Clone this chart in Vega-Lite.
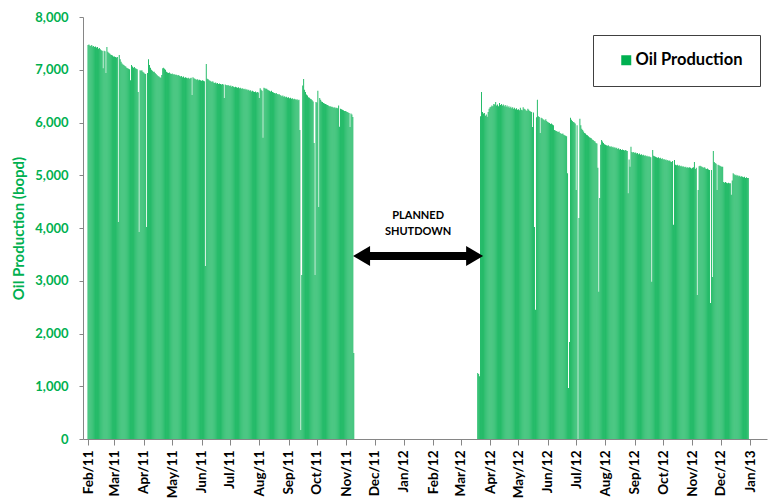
{
"$schema":"https://vega.github.io/schema/vega-lite/v6.json",
"width":684,"height":422,
"autosize":{"type":"none"},
"padding":{"left":83,"top":17,"right":1,"bottom":61},
"background":"white",
"config":{"view":{"stroke":null},"font":"Lato"},
"datasets":{
"oil":[
{"d":"2011-02-01","v":7470},{"d":"2011-02-02","v":7480},{"d":"2011-02-03","v":7460},{"d":"2011-02-04","v":7450},{"d":"2011-02-05","v":7470},{"d":"2011-02-06","v":7440},{"d":"2011-02-07","v":7450},{"d":"2011-02-08","v":7430},{"d":"2011-02-09","v":7440},{"d":"2011-02-10","v":7420},{"d":"2011-02-11","v":7430},{"d":"2011-02-12","v":7400},{"d":"2011-02-13","v":7410},{"d":"2011-02-14","v":7390},{"d":"2011-02-15","v":7370},{"d":"2011-02-16","v":7360},{"d":"2011-02-17","v":7030},{"d":"2011-02-18","v":7360},{"d":"2011-02-19","v":7350},{"d":"2011-02-20","v":6940},{"d":"2011-02-21","v":7430},{"d":"2011-02-22","v":7340},{"d":"2011-02-23","v":7320},{"d":"2011-02-24","v":7310},{"d":"2011-02-25","v":7290},{"d":"2011-02-26","v":7280},{"d":"2011-02-27","v":7270},{"d":"2011-02-28","v":7250},
{"d":"2011-03-01","v":7250},{"d":"2011-03-02","v":7240},{"d":"2011-03-03","v":7230},{"d":"2011-03-04","v":7240},{"d":"2011-03-05","v":4115},{"d":"2011-03-06","v":7280},{"d":"2011-03-07","v":7200},{"d":"2011-03-08","v":7150},{"d":"2011-03-09","v":7120},{"d":"2011-03-10","v":7100},{"d":"2011-03-11","v":7090},{"d":"2011-03-12","v":7070},{"d":"2011-03-13","v":7060},{"d":"2011-03-14","v":7040},{"d":"2011-03-15","v":7030},{"d":"2011-03-16","v":7020},{"d":"2011-03-17","v":7010},{"d":"2011-03-18","v":6800},{"d":"2011-03-19","v":7090},{"d":"2011-03-20","v":7060},{"d":"2011-03-21","v":7040},{"d":"2011-03-22","v":7050},{"d":"2011-03-23","v":7030},{"d":"2011-03-24","v":7020},{"d":"2011-03-25","v":7010},{"d":"2011-03-26","v":6580},{"d":"2011-03-27","v":3925},{"d":"2011-03-28","v":6990},{"d":"2011-03-29","v":6980},{"d":"2011-03-30","v":6990},{"d":"2011-03-31","v":6960},
{"d":"2011-04-01","v":6950},{"d":"2011-04-02","v":6930},{"d":"2011-04-03","v":6920},{"d":"2011-04-04","v":4020},{"d":"2011-04-05","v":6940},{"d":"2011-04-06","v":7200},{"d":"2011-04-07","v":7090},{"d":"2011-04-08","v":7040},{"d":"2011-04-09","v":7000},{"d":"2011-04-10","v":6980},{"d":"2011-04-11","v":6960},{"d":"2011-04-12","v":6960},{"d":"2011-04-13","v":6940},{"d":"2011-04-14","v":6920},{"d":"2011-04-15","v":6900},{"d":"2011-04-16","v":6880},{"d":"2011-04-17","v":6870},{"d":"2011-04-18","v":6860},{"d":"2011-04-19","v":6850},{"d":"2011-04-20","v":6900},{"d":"2011-04-21","v":7030},{"d":"2011-04-22","v":7040},{"d":"2011-04-23","v":7020},{"d":"2011-04-24","v":7000},{"d":"2011-04-25","v":6960},{"d":"2011-04-26","v":6950},{"d":"2011-04-27","v":6940},{"d":"2011-04-28","v":6950},{"d":"2011-04-29","v":6930},{"d":"2011-04-30","v":6920},
{"d":"2011-05-01","v":6930},{"d":"2011-05-02","v":6910},{"d":"2011-05-03","v":6920},{"d":"2011-05-04","v":6900},{"d":"2011-05-05","v":6910},{"d":"2011-05-06","v":6900},{"d":"2011-05-07","v":6890},{"d":"2011-05-08","v":6900},{"d":"2011-05-09","v":6880},{"d":"2011-05-10","v":6870},{"d":"2011-05-11","v":6880},{"d":"2011-05-12","v":6860},{"d":"2011-05-13","v":6870},{"d":"2011-05-14","v":6850},{"d":"2011-05-15","v":6860},{"d":"2011-05-16","v":6850},{"d":"2011-05-17","v":6840},{"d":"2011-05-18","v":6850},{"d":"2011-05-19","v":6830},{"d":"2011-05-20","v":6840},{"d":"2011-05-21","v":6850},{"d":"2011-05-22","v":6520},{"d":"2011-05-23","v":6860},{"d":"2011-05-24","v":6840},{"d":"2011-05-25","v":6830},{"d":"2011-05-26","v":6820},{"d":"2011-05-27","v":6810},{"d":"2011-05-28","v":6820},{"d":"2011-05-29","v":6800},{"d":"2011-05-30","v":6810},{"d":"2011-05-31","v":6800},
{"d":"2011-06-01","v":6790},{"d":"2011-06-02","v":6800},{"d":"2011-06-03","v":6790},{"d":"2011-06-04","v":6780},{"d":"2011-06-05","v":3280},{"d":"2011-06-06","v":7110},{"d":"2011-06-07","v":6830},{"d":"2011-06-08","v":6820},{"d":"2011-06-09","v":6800},{"d":"2011-06-10","v":6790},{"d":"2011-06-11","v":6780},{"d":"2011-06-12","v":6770},{"d":"2011-06-13","v":6780},{"d":"2011-06-14","v":6760},{"d":"2011-06-15","v":6750},{"d":"2011-06-16","v":6760},{"d":"2011-06-17","v":6740},{"d":"2011-06-18","v":6750},{"d":"2011-06-19","v":6730},{"d":"2011-06-20","v":6740},{"d":"2011-06-21","v":6730},{"d":"2011-06-22","v":6720},{"d":"2011-06-23","v":6730},{"d":"2011-06-24","v":6720},{"d":"2011-06-25","v":6465},{"d":"2011-06-26","v":6720},{"d":"2011-06-27","v":6710},{"d":"2011-06-28","v":6700},{"d":"2011-06-29","v":6710},{"d":"2011-06-30","v":6700},
{"d":"2011-07-01","v":6690},{"d":"2011-07-02","v":6700},{"d":"2011-07-03","v":6680},{"d":"2011-07-04","v":6690},{"d":"2011-07-05","v":6680},{"d":"2011-07-06","v":6670},{"d":"2011-07-07","v":6680},{"d":"2011-07-08","v":6670},{"d":"2011-07-09","v":6660},{"d":"2011-07-10","v":6670},{"d":"2011-07-11","v":6650},{"d":"2011-07-12","v":6660},{"d":"2011-07-13","v":6640},{"d":"2011-07-14","v":6650},{"d":"2011-07-15","v":6640},{"d":"2011-07-16","v":6630},{"d":"2011-07-17","v":6640},{"d":"2011-07-18","v":6620},{"d":"2011-07-19","v":6630},{"d":"2011-07-20","v":6610},{"d":"2011-07-21","v":6620},{"d":"2011-07-22","v":6600},{"d":"2011-07-23","v":6610},{"d":"2011-07-24","v":6590},{"d":"2011-07-25","v":6600},{"d":"2011-07-26","v":6590},{"d":"2011-07-27","v":6580},{"d":"2011-07-28","v":6590},{"d":"2011-07-29","v":6570},{"d":"2011-07-30","v":6580},{"d":"2011-07-31","v":6570},
{"d":"2011-08-01","v":6465},{"d":"2011-08-02","v":6650},{"d":"2011-08-03","v":6620},{"d":"2011-08-04","v":6600},{"d":"2011-08-05","v":5710},{"d":"2011-08-06","v":6660},{"d":"2011-08-07","v":6650},{"d":"2011-08-08","v":6640},{"d":"2011-08-09","v":6640},{"d":"2011-08-10","v":6620},{"d":"2011-08-11","v":6610},{"d":"2011-08-12","v":6600},{"d":"2011-08-13","v":6590},{"d":"2011-08-14","v":6600},{"d":"2011-08-15","v":6580},{"d":"2011-08-16","v":6570},{"d":"2011-08-17","v":6560},{"d":"2011-08-18","v":6550},{"d":"2011-08-19","v":6560},{"d":"2011-08-20","v":6540},{"d":"2011-08-21","v":6530},{"d":"2011-08-22","v":6540},{"d":"2011-08-23","v":6520},{"d":"2011-08-24","v":6510},{"d":"2011-08-25","v":6500},{"d":"2011-08-26","v":6510},{"d":"2011-08-27","v":6490},{"d":"2011-08-28","v":6500},{"d":"2011-08-29","v":6480},{"d":"2011-08-30","v":6490},{"d":"2011-08-31","v":6470},
{"d":"2011-09-01","v":6480},{"d":"2011-09-02","v":6460},{"d":"2011-09-03","v":6470},{"d":"2011-09-04","v":6450},{"d":"2011-09-05","v":6460},{"d":"2011-09-06","v":6440},{"d":"2011-09-07","v":6450},{"d":"2011-09-08","v":6440},{"d":"2011-09-09","v":6430},{"d":"2011-09-10","v":6440},{"d":"2011-09-11","v":6420},{"d":"2011-09-12","v":6430},{"d":"2011-09-13","v":5860},{"d":"2011-09-14","v":170},{"d":"2011-09-15","v":3110},{"d":"2011-09-16","v":6700},{"d":"2011-09-17","v":6825},{"d":"2011-09-18","v":6620},{"d":"2011-09-19","v":6580},{"d":"2011-09-20","v":6530},{"d":"2011-09-21","v":6510},{"d":"2011-09-22","v":6480},{"d":"2011-09-23","v":6470},{"d":"2011-09-24","v":6450},{"d":"2011-09-25","v":6440},{"d":"2011-09-26","v":6420},{"d":"2011-09-27","v":6400},{"d":"2011-09-28","v":5610},{"d":"2011-09-29","v":3110},{"d":"2011-09-30","v":6390},
{"d":"2011-10-01","v":6380},{"d":"2011-10-02","v":6600},{"d":"2011-10-03","v":4400},{"d":"2011-10-04","v":6465},{"d":"2011-10-05","v":6430},{"d":"2011-10-06","v":6400},{"d":"2011-10-07","v":6390},{"d":"2011-10-08","v":6370},{"d":"2011-10-09","v":6360},{"d":"2011-10-10","v":6350},{"d":"2011-10-11","v":6340},{"d":"2011-10-12","v":6330},{"d":"2011-10-13","v":6320},{"d":"2011-10-14","v":6310},{"d":"2011-10-15","v":6310},{"d":"2011-10-16","v":6300},{"d":"2011-10-17","v":6300},{"d":"2011-10-18","v":6290},{"d":"2011-10-19","v":6280},{"d":"2011-10-20","v":6290},{"d":"2011-10-21","v":6270},{"d":"2011-10-22","v":6280},{"d":"2011-10-23","v":6270},{"d":"2011-10-24","v":6320},{"d":"2011-10-25","v":5920},{"d":"2011-10-26","v":6260},{"d":"2011-10-27","v":6250},{"d":"2011-10-28","v":6240},{"d":"2011-10-29","v":6230},{"d":"2011-10-30","v":6220},{"d":"2011-10-31","v":6220},
{"d":"2011-11-01","v":6210},{"d":"2011-11-02","v":6200},{"d":"2011-11-03","v":6190},{"d":"2011-11-04","v":6180},{"d":"2011-11-05","v":5915},{"d":"2011-11-06","v":6170},{"d":"2011-11-07","v":6150},{"d":"2011-11-08","v":6105},{"d":"2011-11-09","v":1630},
{"d":"2012-03-19","v":1250},{"d":"2012-03-20","v":1230},{"d":"2012-03-21","v":1190},{"d":"2012-03-22","v":6120},{"d":"2012-03-23","v":6580},{"d":"2012-03-24","v":6200},{"d":"2012-03-25","v":6170},{"d":"2012-03-26","v":6180},{"d":"2012-03-27","v":6130},{"d":"2012-03-28","v":6150},{"d":"2012-03-29","v":6110},{"d":"2012-03-30","v":6200},{"d":"2012-03-31","v":6260},
{"d":"2012-04-01","v":6290},{"d":"2012-04-02","v":6300},{"d":"2012-04-03","v":6320},{"d":"2012-04-04","v":6310},{"d":"2012-04-05","v":6350},{"d":"2012-04-06","v":6340},{"d":"2012-04-07","v":6390},{"d":"2012-04-08","v":6320},{"d":"2012-04-09","v":6340},{"d":"2012-04-10","v":6310},{"d":"2012-04-11","v":6370},{"d":"2012-04-12","v":6330},{"d":"2012-04-13","v":6350},{"d":"2012-04-14","v":6320},{"d":"2012-04-15","v":6340},{"d":"2012-04-16","v":6310},{"d":"2012-04-17","v":6330},{"d":"2012-04-18","v":6300},{"d":"2012-04-19","v":6320},{"d":"2012-04-20","v":6290},{"d":"2012-04-21","v":6310},{"d":"2012-04-22","v":6280},{"d":"2012-04-23","v":6300},{"d":"2012-04-24","v":6270},{"d":"2012-04-25","v":6290},{"d":"2012-04-26","v":6260},{"d":"2012-04-27","v":6280},{"d":"2012-04-28","v":6250},{"d":"2012-04-29","v":6270},{"d":"2012-04-30","v":6240},
{"d":"2012-05-01","v":6250},{"d":"2012-05-02","v":6230},{"d":"2012-05-03","v":6280},{"d":"2012-05-04","v":6240},{"d":"2012-05-05","v":6230},{"d":"2012-05-06","v":6290},{"d":"2012-05-07","v":6260},{"d":"2012-05-08","v":6250},{"d":"2012-05-09","v":6230},{"d":"2012-05-10","v":6220},{"d":"2012-05-11","v":6260},{"d":"2012-05-12","v":6240},{"d":"2012-05-13","v":6220},{"d":"2012-05-14","v":6210},{"d":"2012-05-15","v":6200},{"d":"2012-05-16","v":5915},{"d":"2012-05-17","v":6190},{"d":"2012-05-18","v":4020},{"d":"2012-05-19","v":2450},{"d":"2012-05-20","v":6100},{"d":"2012-05-21","v":6430},{"d":"2012-05-22","v":6120},{"d":"2012-05-23","v":6105},{"d":"2012-05-24","v":5800},{"d":"2012-05-25","v":6090},{"d":"2012-05-26","v":6080},{"d":"2012-05-27","v":6060},{"d":"2012-05-28","v":6050},{"d":"2012-05-29","v":6040},{"d":"2012-05-30","v":6060},{"d":"2012-05-31","v":6030},
{"d":"2012-06-01","v":6010},{"d":"2012-06-02","v":6000},{"d":"2012-06-03","v":5990},{"d":"2012-06-04","v":5970},{"d":"2012-06-05","v":5980},{"d":"2012-06-06","v":5960},{"d":"2012-06-07","v":5950},{"d":"2012-06-08","v":5860},{"d":"2012-06-09","v":5850},{"d":"2012-06-10","v":5840},{"d":"2012-06-11","v":5830},{"d":"2012-06-12","v":5820},{"d":"2012-06-13","v":5830},{"d":"2012-06-14","v":5800},{"d":"2012-06-15","v":5790},{"d":"2012-06-16","v":5780},{"d":"2012-06-17","v":5790},{"d":"2012-06-18","v":5770},{"d":"2012-06-19","v":5760},{"d":"2012-06-20","v":5750},{"d":"2012-06-21","v":5740},{"d":"2012-06-22","v":5040},{"d":"2012-06-23","v":965},{"d":"2012-06-24","v":1840},{"d":"2012-06-25","v":6090},{"d":"2012-06-26","v":6050},{"d":"2012-06-27","v":6030},{"d":"2012-06-28","v":6010},{"d":"2012-06-29","v":6000},{"d":"2012-06-30","v":5980},
{"d":"2012-07-01","v":4720},{"d":"2012-07-02","v":5950},{"d":"2012-07-04","v":4190},{"d":"2012-07-05","v":6070},{"d":"2012-07-06","v":5950},{"d":"2012-07-07","v":5880},{"d":"2012-07-08","v":5860},{"d":"2012-07-09","v":5830},{"d":"2012-07-10","v":5800},{"d":"2012-07-11","v":5790},{"d":"2012-07-12","v":5770},{"d":"2012-07-13","v":5760},{"d":"2012-07-14","v":5740},{"d":"2012-07-15","v":5720},{"d":"2012-07-16","v":5710},{"d":"2012-07-17","v":5700},{"d":"2012-07-18","v":5680},{"d":"2012-07-19","v":5670},{"d":"2012-07-20","v":5650},{"d":"2012-07-21","v":5640},{"d":"2012-07-22","v":5610},{"d":"2012-07-23","v":5600},{"d":"2012-07-24","v":5140},{"d":"2012-07-25","v":2790},{"d":"2012-07-26","v":4570},{"d":"2012-07-27","v":5580},{"d":"2012-07-28","v":5670},{"d":"2012-07-29","v":5640},{"d":"2012-07-30","v":5610},{"d":"2012-07-31","v":5590},
{"d":"2012-08-01","v":5580},{"d":"2012-08-02","v":5570},{"d":"2012-08-03","v":5560},{"d":"2012-08-04","v":5570},{"d":"2012-08-05","v":5550},{"d":"2012-08-06","v":5540},{"d":"2012-08-07","v":5550},{"d":"2012-08-08","v":5530},{"d":"2012-08-09","v":5540},{"d":"2012-08-10","v":5520},{"d":"2012-08-11","v":5530},{"d":"2012-08-12","v":5510},{"d":"2012-08-13","v":5520},{"d":"2012-08-14","v":5500},{"d":"2012-08-15","v":5510},{"d":"2012-08-16","v":5490},{"d":"2012-08-17","v":5500},{"d":"2012-08-18","v":5480},{"d":"2012-08-19","v":5490},{"d":"2012-08-20","v":5480},{"d":"2012-08-21","v":5470},{"d":"2012-08-22","v":5480},{"d":"2012-08-23","v":5470},{"d":"2012-08-24","v":5460},{"d":"2012-08-25","v":4660},{"d":"2012-08-26","v":5300},{"d":"2012-08-27","v":5160},{"d":"2012-08-28","v":5540},{"d":"2012-08-29","v":5440},{"d":"2012-08-30","v":5430},{"d":"2012-08-31","v":5440},
{"d":"2012-09-01","v":5420},{"d":"2012-09-02","v":5430},{"d":"2012-09-03","v":5410},{"d":"2012-09-04","v":5420},{"d":"2012-09-05","v":5400},{"d":"2012-09-06","v":5410},{"d":"2012-09-07","v":5390},{"d":"2012-09-08","v":5400},{"d":"2012-09-09","v":5380},{"d":"2012-09-10","v":5390},{"d":"2012-09-11","v":5370},{"d":"2012-09-12","v":5380},{"d":"2012-09-13","v":5360},{"d":"2012-09-14","v":5370},{"d":"2012-09-15","v":5350},{"d":"2012-09-16","v":5360},{"d":"2012-09-17","v":5350},{"d":"2012-09-18","v":5340},{"d":"2012-09-19","v":2980},{"d":"2012-09-20","v":5480},{"d":"2012-09-21","v":5370},{"d":"2012-09-22","v":5360},{"d":"2012-09-23","v":5350},{"d":"2012-09-24","v":5340},{"d":"2012-09-25","v":5330},{"d":"2012-09-26","v":5340},{"d":"2012-09-27","v":5320},{"d":"2012-09-28","v":5330},{"d":"2012-09-29","v":5310},{"d":"2012-09-30","v":5320},
{"d":"2012-10-01","v":5300},{"d":"2012-10-02","v":5310},{"d":"2012-10-03","v":5290},{"d":"2012-10-04","v":5300},{"d":"2012-10-05","v":5280},{"d":"2012-10-06","v":5290},{"d":"2012-10-07","v":5270},{"d":"2012-10-08","v":5280},{"d":"2012-10-09","v":5260},{"d":"2012-10-10","v":5250},{"d":"2012-10-11","v":5270},{"d":"2012-10-12","v":4060},{"d":"2012-10-13","v":5290},{"d":"2012-10-14","v":5200},{"d":"2012-10-15","v":5190},{"d":"2012-10-16","v":5200},{"d":"2012-10-17","v":5180},{"d":"2012-10-18","v":5190},{"d":"2012-10-19","v":5170},{"d":"2012-10-20","v":5180},{"d":"2012-10-21","v":5160},{"d":"2012-10-22","v":5170},{"d":"2012-10-23","v":5160},{"d":"2012-10-24","v":5150},{"d":"2012-10-25","v":5160},{"d":"2012-10-26","v":5140},{"d":"2012-10-27","v":5150},{"d":"2012-10-28","v":5140},{"d":"2012-10-29","v":5150},{"d":"2012-10-30","v":5140},{"d":"2012-10-31","v":5130},
{"d":"2012-11-01","v":5140},{"d":"2012-11-02","v":5150},{"d":"2012-11-03","v":5250},{"d":"2012-11-04","v":5120},{"d":"2012-11-05","v":5140},{"d":"2012-11-06","v":2730},{"d":"2012-11-07","v":4720},{"d":"2012-11-08","v":5170},{"d":"2012-11-09","v":5180},{"d":"2012-11-10","v":5170},{"d":"2012-11-11","v":5160},{"d":"2012-11-12","v":5150},{"d":"2012-11-13","v":5140},{"d":"2012-11-14","v":5150},{"d":"2012-11-15","v":5130},{"d":"2012-11-16","v":5120},{"d":"2012-11-17","v":5130},{"d":"2012-11-18","v":5110},{"d":"2012-11-19","v":5100},{"d":"2012-11-20","v":2580},{"d":"2012-11-21","v":5100},{"d":"2012-11-22","v":3070},{"d":"2012-11-23","v":5460},{"d":"2012-11-24","v":5250},{"d":"2012-11-25","v":5230},{"d":"2012-11-26","v":5220},{"d":"2012-11-27","v":4720},{"d":"2012-11-28","v":5200},{"d":"2012-11-29","v":5190},{"d":"2012-11-30","v":5180},
{"d":"2012-12-01","v":5170},{"d":"2012-12-02","v":5160},{"d":"2012-12-03","v":5160},{"d":"2012-12-04","v":4870},{"d":"2012-12-05","v":4860},{"d":"2012-12-06","v":4870},{"d":"2012-12-07","v":4860},{"d":"2012-12-08","v":4850},{"d":"2012-12-09","v":4860},{"d":"2012-12-10","v":4850},{"d":"2012-12-11","v":4850},{"d":"2012-12-12","v":4630},{"d":"2012-12-13","v":4900},{"d":"2012-12-14","v":5040},{"d":"2012-12-15","v":5020},{"d":"2012-12-16","v":5000},{"d":"2012-12-17","v":5010},{"d":"2012-12-18","v":4990},{"d":"2012-12-19","v":5000},{"d":"2012-12-20","v":4980},{"d":"2012-12-21","v":4990},{"d":"2012-12-22","v":4970},{"d":"2012-12-23","v":4980},{"d":"2012-12-24","v":4970},{"d":"2012-12-25","v":4960},{"d":"2012-12-26","v":4970},{"d":"2012-12-27","v":4950},{"d":"2012-12-28","v":4960},{"d":"2012-12-29","v":4950},{"d":"2012-12-30","v":4950}
],
"arrowShaft":[{"a":"2011-11-20","b":"2012-03-12","v":3470}],
"arrowHeads":[{"d":"2011-11-08T05:00:00Z","v":3470,"side":"left"},{"d":"2012-03-24T17:00:00Z","v":3470,"side":"right"}],
"notes":[{"d":"2012-01-16","v":4228,"t":"PLANNED"},{"d":"2012-01-16","v":3925,"t":"SHUTDOWN"}]
},
"layer":[
{
"data":{"name":"oil"},
"mark":{"type":"bar","width":0.85,"color":"#00B050"},
"encoding":{
"x":{"field":"d","type":"temporal",
"scale":{"type":"utc","domain":[{"year":2011,"month":2,"date":1,"utc":true},{"year":2013,"month":1,"date":13,"hours":12,"utc":true}],"nice":false},
"axis":{"title":null,"format":"%b/%y","labelAngle":270,"labelFont":"Lato","labelFontWeight":"bold","labelFontSize":13.5,"labelColor":"black","tickCount":{"interval":"month","step":1},"tickSize":6,"tickColor":"#868686","domainColor":"#868686","labelPadding":5,"grid":false,"labelFlush":false,"labelOverlap":false}},
"y":{"field":"v","type":"quantitative",
"scale":{"domain":[0,8000],"nice":false},
"axis":{"title":"Oil Production (bopd)","titleColor":"#00B050","titleFont":"Lato","titleFontSize":15,"titleFontWeight":"bold","titlePadding":8,
"values":[0,250,500,750,1000,1250,1500,1750,2000,2250,2500,2750,3000,3250,3500,3750,4000,4250,4500,4750,5000,5250,5500,5750,6000,6250,6500,6750,7000,7250,7500,7750,8000],
"labelExpr":"datum.value % 1000 === 0 ? format(datum.value, ',') : ''",
"labelColor":"#00B050","labelFont":"Lato","labelFontWeight":"bold","labelFontSize":13,"labelPadding":11,"tickSize":4,"tickColor":"#868686","domainColor":"#868686","grid":false,"labelOverlap":false}},
"color":{"datum":"Oil Production","type":"nominal","scale":{"range":["#00B050"]},
"legend":{"title":null,"orient":"none","legendX":510,"legendY":18,"padding":17,"strokeColor":"#404040","fillColor":"white","symbolType":"square","symbolSize":100,"symbolOffset":8,"labelOffset":1,"symbolStrokeWidth":0,"labelFont":"Lato","labelFontSize":16.5,"labelFontWeight":"bold","labelColor":"black"}}
}
},
{
"mark":{"type":"rule","color":"#868686","strokeWidth":1},
"encoding":{"y":{"datum":8000}}
},
{
"data":{"name":"arrowShaft"},
"mark":{"type":"rule","color":"black","strokeWidth":8},
"encoding":{"x":{"field":"a","type":"temporal"},"x2":{"field":"b"},"y":{"field":"v","type":"quantitative"}}
},
{
"data":{"name":"arrowHeads"},
"mark":{"type":"point","filled":true,"color":"black","size":400,"opacity":1},
"encoding":{"x":{"field":"d","type":"temporal"},"y":{"field":"v","type":"quantitative"},
"shape":{"field":"side","type":"nominal","scale":{"domain":["left","right"],"range":["M0,0L1.7,-1L1.7,1Z","M0,0L-1.7,-1L-1.7,1Z"]},"legend":null}}
},
{
"data":{"name":"notes"},
"mark":{"type":"text","font":"Lato","fontWeight":"bold","fontSize":11,"color":"black","align":"center","baseline":"middle"},
"encoding":{"x":{"field":"d","type":"temporal"},"y":{"field":"v","type":"quantitative"},"text":{"field":"t"}}
}
]
}
